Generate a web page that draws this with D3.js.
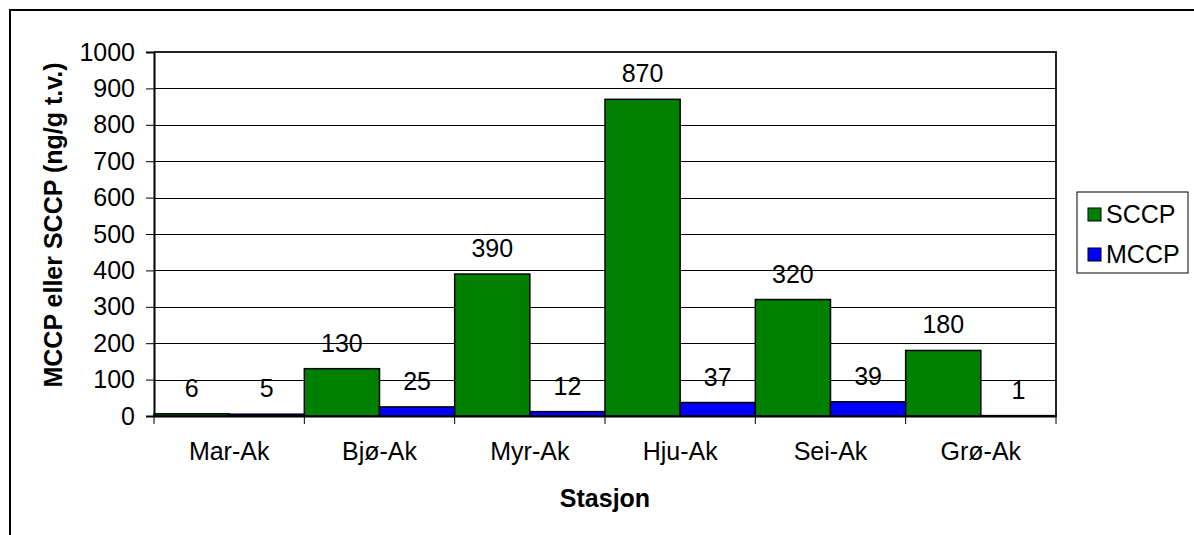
<!DOCTYPE html>
<html>
<head>
<meta charset="utf-8">
<script src="https://cdn.jsdelivr.net/npm/d3@7"></script>
<style>
  body { margin: 0; background: #fff; }
  svg text { font-family: "Liberation Sans", Arial, sans-serif; }
</style>
</head>
<body>
<div id="vis"></div>
<script>
var categories = ["Mar-Ak", "Bjø-Ak", "Myr-Ak", "Hju-Ak", "Sei-Ak", "Grø-Ak"];
var sccp = [6, 130, 390, 870, 320, 180];
var mccp = [5, 25, 12, 37, 39, 1];
var seriesNames = ["SCCP", "MCCP"];
var yTicks = [0, 100, 200, 300, 400, 500, 600, 700, 800, 900, 1000];

var margin = {top: 52, left: 154, right: 1056, bottom: 416};
var fontSize = 25;

var svg = d3.select("div#vis")
  .append("svg")
  .attr("width", 1194)
  .attr("height", 535);

// outer frame (runs off the right and bottom edge)
svg.append("rect")
  .attr("x", 10).attr("y", 10)
  .attr("width", 1300).attr("height", 700)
  .attr("fill", "none")
  .attr("stroke", "#000")
  .attr("stroke-width", 2);

var x0 = d3.scaleBand()
  .domain(categories)
  .range([margin.left, margin.right]);

var x1 = d3.scaleBand()
  .domain(seriesNames)
  .range([0, x0.bandwidth()]);

var y = d3.scaleLinear()
  .domain([0, 1000])
  .range([margin.bottom, margin.top]);

var z = d3.scaleOrdinal()
  .domain(seriesNames)
  .range(["#008000", "#0000ff"]);

// gridlines
svg.append("g")
  .selectAll("line")
  .data(yTicks.slice(1))
  .enter().append("line")
  .attr("x1", margin.left).attr("x2", margin.right)
  .attr("y1", function(d) { return Math.round(y(d)) + 0.5; })
  .attr("y2", function(d) { return Math.round(y(d)) + 0.5; })
  .attr("stroke", "#000")
  .attr("stroke-width", 1);

// plot border right / top
svg.append("path")
  .attr("d", "M" + margin.left + "," + margin.top + "H" + margin.right + "V" + margin.bottom)
  .attr("fill", "none")
  .attr("stroke", "#222")
  .attr("stroke-width", 2);

var data = categories.map(function(c, i) {
  return {cat: c, values: [{key: "SCCP", value: sccp[i]}, {key: "MCCP", value: mccp[i]}]};
});

var groups = svg.append("g")
  .selectAll("g")
  .data(data)
  .enter().append("g")
  .attr("transform", function(d) { return "translate(" + x0(d.cat) + ",0)"; });

groups.selectAll("rect")
  .data(function(d) { return d.values; })
  .enter().append("rect")
  .attr("x", function(d) { return x1(d.key); })
  .attr("y", function(d) { return y(d.value); })
  .attr("width", x1.bandwidth())
  .attr("height", function(d) { return y(0) - y(d.value); })
  .attr("fill", function(d) { return z(d.key); })
  .attr("stroke", "#000")
  .attr("stroke-width", 1.5);

groups.selectAll("text.val")
  .data(function(d) { return d.values; })
  .enter().append("text")
  .attr("class", "val")
  .attr("x", function(d) { return x1(d.key) + x1.bandwidth() / 2; })
  .attr("y", function(d) { return y(d.value) - 17; })
  .attr("text-anchor", "middle")
  .attr("font-size", fontSize)
  .attr("fill", "#000")
  .text(function(d) { return d.value; });

// y axis
var yAxis = svg.append("g")
  .attr("transform", "translate(" + margin.left + ",0)")
  .call(d3.axisLeft(y).tickValues(yTicks).tickFormat(d3.format("d")).tickSize(8).tickPadding(11));
yAxis.select(".domain").attr("stroke", "#000").attr("stroke-width", 2);
yAxis.selectAll(".tick line").attr("stroke", "#000");
yAxis.selectAll(".tick text")
  .attr("font-size", fontSize)
  .attr("font-family", "Liberation Sans, Arial, sans-serif")
  .attr("fill", "#000");

// x axis
var xAxis = svg.append("g")
  .attr("transform", "translate(0," + margin.bottom + ")")
  .call(d3.axisBottom(x0).tickSize(0).tickPadding(0));
xAxis.select(".domain").attr("stroke", "#000").attr("stroke-width", 2);
xAxis.selectAll(".tick text")
  .attr("font-size", fontSize)
  .attr("font-family", "Liberation Sans, Arial, sans-serif")
  .attr("fill", "#000")
  .attr("dy", null)
  .attr("y", 44);

// category separator ticks
svg.append("g")
  .selectAll("line")
  .data(categories.concat(["end"]))
  .enter().append("line")
  .attr("x1", function(d, i) { return i < categories.length ? x0(d) : margin.right; })
  .attr("x2", function(d, i) { return i < categories.length ? x0(d) : margin.right; })
  .attr("y1", margin.bottom)
  .attr("y2", margin.bottom + 8)
  .attr("stroke", "#000");

// axis titles
svg.append("text")
  .attr("x", (margin.left + margin.right) / 2)
  .attr("y", 507)
  .attr("text-anchor", "middle")
  .attr("font-size", fontSize)
  .attr("font-weight", "bold")
  .text("Stasjon");

svg.append("text")
  .attr("transform", "translate(62," + 225 + ") rotate(-90)")
  .attr("text-anchor", "middle")
  .attr("font-size", fontSize)
  .attr("font-weight", "bold")
  .text("MCCP eller SCCP (ng/g t.v.)");

// legend
var legend = svg.append("g")
  .attr("transform", "translate(1077,192)");

legend.append("rect")
  .attr("width", 111)
  .attr("height", 81)
  .attr("fill", "#fff")
  .attr("stroke", "#000")
  .attr("stroke-width", 1);

var item = legend.selectAll("g")
  .data(seriesNames)
  .enter().append("g")
  .attr("transform", function(d, i) { return "translate(0," + (22 + i * 40) + ")"; });

item.append("rect")
  .attr("x", 11)
  .attr("y", -6)
  .attr("width", 13)
  .attr("height", 13)
  .attr("fill", z)
  .attr("stroke", "#000")
  .attr("stroke-width", 1);

item.append("text")
  .attr("x", 29)
  .attr("y", 9)
  .attr("font-size", fontSize)
  .text(function(d) { return d; });
</script>
</body>
</html>
